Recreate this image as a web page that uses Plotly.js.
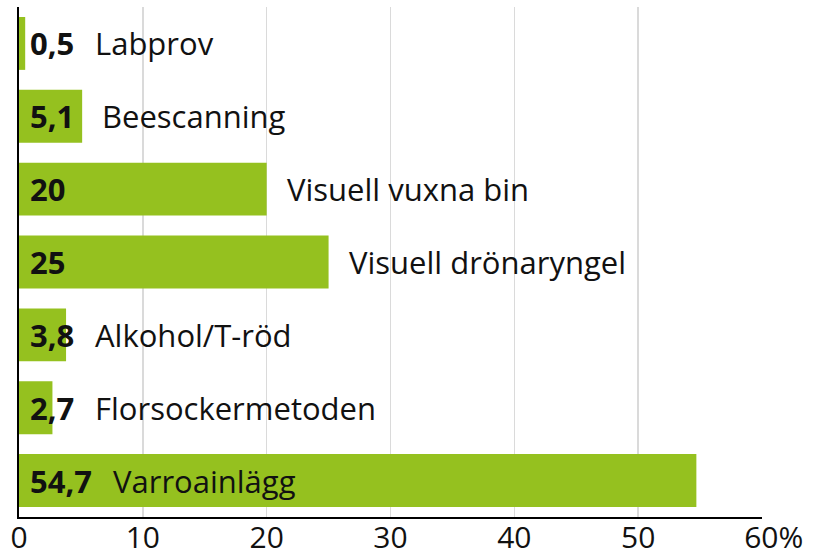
<!DOCTYPE html>
<html>
<head>
<meta charset="utf-8">
<script src="https://cdn.plot.ly/plotly-3.0.1.min.js"></script>
<style>
  html, body { margin: 0; padding: 0; background: #ffffff; }
  #chart { width: 818px; height: 555px; }
</style>
</head>
<body>
<div id="chart"></div>
<script>
// ---- data ----
const categories = ["Labprov", "Beescanning", "Visuell vuxna bin", "Visuell drönaryngel",
                    "Alkohol/T-röd", "Florsockermetoden", "Varroainlägg"];
const values = [0.5, 5.1, 20, 25, 3.8, 2.7, 54.7];
const valueLabels = ["0,5", "5,1", "20", "25", "3,8", "2,7", "54,7"];
const tickValues = [0, 10, 20, 30, 40, 50, 60];
const tickLabels = ["0", "10", "20", "30", "40", "50", "\u00A0\u00A0\u00A060%"];

// ---- styling ----
const FONT = '"Open Sans", "DejaVu Sans", sans-serif';
const FS = 31;
const GREEN = '#95c11f';
const margin = { l: 19, r: 56, t: 7, b: 38 };
const W = 818, H = 555;
const xMax = 60;
const plotW = W - margin.l - margin.r;
const pxPerUnit = plotW / xMax;

const ctxB = document.createElement('canvas').getContext('2d');
ctxB.font = 'bold ' + FS + 'px "Open Sans"';
const ctxR = document.createElement('canvas').getContext('2d');
ctxR.font = FS + 'px "Open Sans"';

const valueStart = 9;   // px from axis where value text starts
const gap = 21;

const annotations = [];
categories.forEach((c, i) => {
  const w = ctxB.measureText(valueLabels[i]).width;
  const nameW = ctxR.measureText(c).width;
  annotations.push({
    x: 0, y: c, xref: 'x', yref: 'y', xanchor: 'left', yanchor: 'middle',
    xshift: valueStart, showarrow: false,
    text: '<b>' + valueLabels[i] + '</b>',
    font: { family: FONT, size: FS, color: '#111' }
  });
  const barEnd = values[i] * pxPerUnit;
  const textEnd = valueStart + 3 + w;
  let nameStart = Math.max(barEnd, textEnd) + gap;
  if (nameStart + nameW > plotW + margin.r) nameStart = textEnd + gap;
  annotations.push({
    x: 0, y: c, xref: 'x', yref: 'y', xanchor: 'left', yanchor: 'middle',
    xshift: nameStart - 3, showarrow: false,
    text: c,
    font: { family: FONT, size: FS, color: '#111' }
  });
});

const trace = {
  type: 'bar',
  orientation: 'h',
  x: values,
  y: categories,
  marker: { color: GREEN, line: { width: 0 } },
  hoverinfo: 'none'
};

const layout = {
  width: W, height: H,
  margin: margin,
  paper_bgcolor: '#ffffff',
  plot_bgcolor: '#ffffff',
  showlegend: false,
  bargap: 0.274,
  font: { family: FONT, size: FS, color: '#111' },
  xaxis: {
    range: [0, xMax],
    tickmode: 'array',
    tickvals: tickValues,
    ticktext: tickLabels,
    showgrid: true,
    gridcolor: '#dadada',
    gridwidth: 1.5,
    zeroline: false,
    showline: true,
    linecolor: '#000',
    linewidth: 2,
    ticks: '',
    ticklabelstandoff: -7,
    tickfont: { family: FONT, size: 30, color: '#111' },
    fixedrange: true
  },
  yaxis: {
    type: 'category',
    autorange: 'reversed',
    showticklabels: false,
    showgrid: false,
    zeroline: false,
    showline: true,
    linecolor: '#000',
    linewidth: 2,
    ticks: '',
    fixedrange: true
  },
  annotations: annotations
};

Plotly.newPlot('chart', [trace], layout, { staticPlot: true, displayModeBar: false });
</script>
</body>
</html>
